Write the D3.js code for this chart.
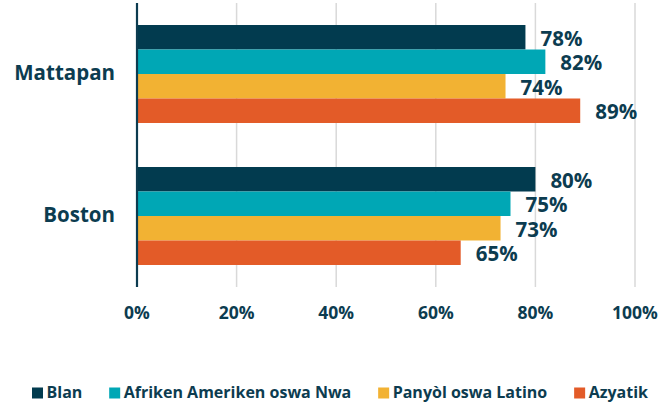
<!DOCTYPE html>
<html>
<head>
<meta charset="utf-8">
<script src="https://cdn.jsdelivr.net/npm/d3@7"></script>
<style>
  html, body { margin: 0; padding: 0; background: #fff; }
  svg { display: block; font-family: "Open Sans", "Noto Sans", sans-serif; font-weight: 700; }
</style>
</head>
<body>
<svg id="chart" width="668" height="402"></svg>
<script>
// ── data ──────────────────────────────────────────
const places = ["Mattapan", "Boston"];
const groups = ["Blan", "Afriken Ameriken oswa Nwa", "Panyòl oswa Latino", "Azyatik"];
const blan    = [78, 80];
const afriken = [82, 75];
const panyol  = [74, 73];
const azyatik = [89, 65];
const xTicks  = [0, 20, 40, 60, 80, 100];

const series = [blan, afriken, panyol, azyatik];
const COLORS = ["#023b4f", "#00a7b5", "#f2b233", "#e35b28"];
const INK = "#0c3c50";

const W = 668, H = 402;
const svg = d3.select("#chart");

const x = d3.scaleLinear().domain([0, 100]).range([137, 635]);
const y = d3.scaleBand().domain(places).range([3, 287]).paddingInner(0.31).paddingOuter(0.155);
const ySub = d3.scaleBand().domain(groups).range([0, y.bandwidth()]);

// gridlines
svg.append("g").selectAll("line").data(xTicks.slice(1)).join("line")
  .attr("x1", d => x(d)).attr("x2", d => x(d))
  .attr("y1", 3).attr("y2", 287)
  .attr("stroke", "#d9d9d9").attr("stroke-width", 1.5);

// bars
const rows = places.map((p, i) => ({ place: p, values: groups.map((g, j) => ({ g, j, v: series[j][i] })) }));
const grp = svg.append("g").selectAll("g").data(rows).join("g")
  .attr("transform", d => `translate(0,${y(d.place)})`);

grp.selectAll("rect").data(d => d.values).join("rect")
  .attr("x", x(0))
  .attr("y", d => ySub(d.g))
  .attr("width", d => x(d.v) - x(0))
  .attr("height", ySub.bandwidth())
  .attr("fill", d => COLORS[d.j]);

grp.selectAll("text").data(d => d.values).join("text")
  .attr("x", d => x(d.v) + 15)
  .attr("y", d => ySub(d.g) + ySub.bandwidth() / 2)
  .attr("dy", "0.42em")
  .attr("font-size", 20.5)
  .attr("fill", INK)
  .text(d => d.v + "%");

// y axis line + category labels
svg.append("line")
  .attr("x1", x(0)).attr("x2", x(0)).attr("y1", 3).attr("y2", 287)
  .attr("stroke", INK).attr("stroke-width", 2.2);

svg.append("g").selectAll("text").data(places).join("text")
  .attr("x", 115)
  .attr("y", d => y(d) + y.bandwidth() / 2)
  .attr("dy", "0.31em")
  .attr("text-anchor", "end")
  .attr("font-size", 20.5)
  .attr("fill", INK)
  .text(d => d);

// x tick labels
svg.append("g").selectAll("text").data(xTicks).join("text")
  .attr("x", d => x(d))
  .attr("y", 319)
  .attr("text-anchor", "middle")
  .attr("font-size", 17.5)
  .attr("fill", INK)
  .text(d => d + "%");

// legend (spread from 32 to 648)
const leg = svg.append("g");
const items = leg.selectAll("g").data(groups).join("g");
items.append("rect").attr("width", 11).attr("height", 11).attr("y", 387.5)
  .attr("fill", (d, i) => COLORS[i]);
items.append("text").attr("x", 14.5).attr("y", 398)
  .attr("font-size", 16).attr("fill", INK).text(d => d);

const widths = items.nodes().map(n => 14.5 + n.querySelector("text").getComputedTextLength());
const total = d3.sum(widths);
const gap = (648 - 32 - total) / (groups.length - 1);
let cx = 32;
items.each(function(d, i) {
  d3.select(this).attr("transform", `translate(${cx},0)`);
  cx += widths[i] + gap;
});
</script>
</body>
</html>
